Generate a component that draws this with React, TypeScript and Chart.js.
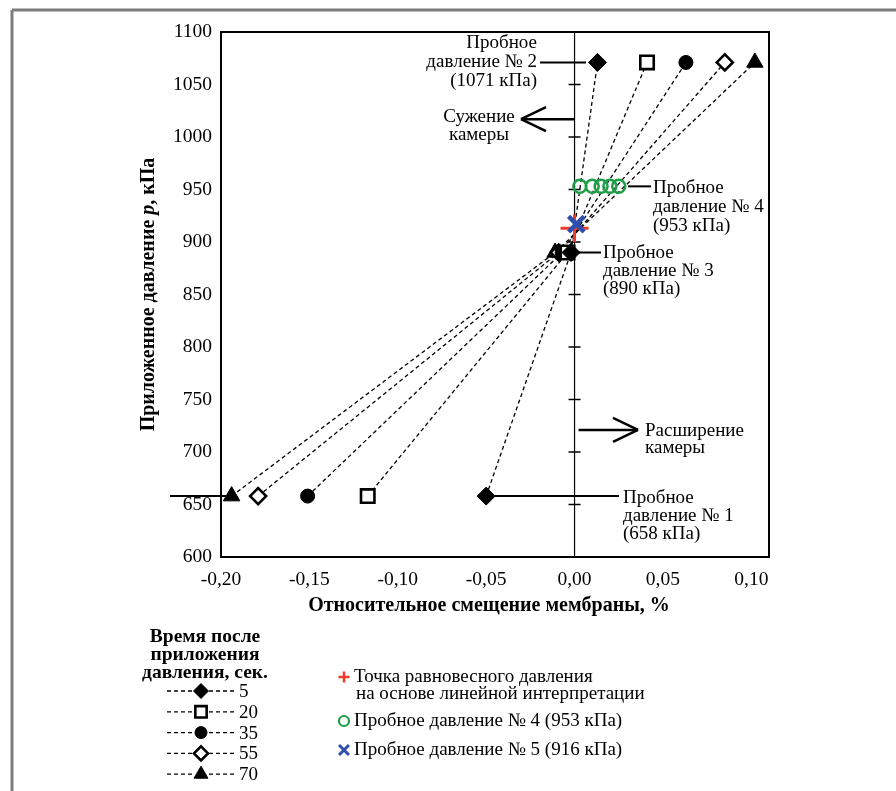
import React, { useEffect, useRef } from "react";
import { Chart, registerables } from "chart.js";
import { drawPoint } from "chart.js/helpers";

Chart.register(...registerables);

const FONT = '"Liberation Serif", "DejaVu Serif", serif';

// ---- data ----
const xTickValues = [-0.2, -0.15, -0.1, -0.05, 0, 0.05, 0.1];
const yTickValues = [600, 650, 700, 750, 800, 850, 900, 950, 1000, 1050, 1100];

const testPressures = [658, 890, 1071];
const timeLabels = ["5", "20", "35", "55", "70"];
const disp5s = [-0.05, -0.002, 0.013];
const disp20s = [-0.117, -0.004, 0.041];
const disp35s = [-0.151, -0.007, 0.063];
const disp55s = [-0.179, -0.009, 0.085];
const disp70s = [-0.194, -0.011, 0.102];

const test4Pressure = 953;
const test4Disp = [0.003, 0.01, 0.015, 0.02, 0.025];
const test5Pressure = [917];
const test5Disp = [0.001];
const equilPressure = [913];
const equilDisp = [0.0];

// ---- styles ----
const seriesDisp = [disp5s, disp20s, disp35s, disp55s, disp70s];
const seriesStyle = [
  { pointStyle: "rectRot", bg: "#000", bw: 1, r: 9, lr: 7.5 },
  { pointStyle: "rect", bg: "#fff", bw: 2.6, r: 9.5, lr: 8 },
  { pointStyle: "circle", bg: "#000", bw: 1, r: 7, lr: 6 },
  { pointStyle: "rectRot", bg: "#fff", bw: 2.6, r: 8, lr: 7 },
  { pointStyle: "triangle", bg: "#000", bw: 1, r: 9.5, lr: 8 },
];
const GREEN = "#1f9e48";
const BLUE = "#2f4fae";
const RED = "#f0392b";

const TXT = 19;
const fmtX = (v: number) => (Math.abs(v) < 1e-9 ? 0 : v).toFixed(2).replace(".", ",");

const decorPlugin = {
  id: "decor",
  beforeDatasetsDraw(chart: any) {
    const { ctx, chartArea: a, scales } = chart;
    const x = scales.x;
    const y = scales.y;
    ctx.save();
    ctx.strokeStyle = "#000";
    ctx.lineWidth = 1.2;
    const x0 = x.getPixelForValue(0);
    ctx.beginPath();
    ctx.moveTo(x0, a.top);
    ctx.lineTo(x0, a.bottom);
    ctx.stroke();
    ctx.lineWidth = 1.5;
    yTickValues.forEach((v) => {
      const py = y.getPixelForValue(v);
      ctx.beginPath();
      ctx.moveTo(x0 - 6, py);
      ctx.lineTo(x0 + 6, py);
      ctx.stroke();
    });
    ctx.restore();
  },
  afterDatasetsDraw(chart: any) {
    const { ctx, chartArea: a, scales } = chart;
    const x = scales.x;
    const y = scales.y;
    const X = (v: number) => x.getPixelForValue(v);
    const Y = (v: number) => y.getPixelForValue(v);
    ctx.save();

    const line = (x1: number, y1: number, x2: number, y2: number, w = 2, dash: number[] = []) => {
      ctx.save();
      ctx.lineWidth = w;
      ctx.setLineDash(dash);
      ctx.beginPath();
      ctx.moveTo(x1, y1);
      ctx.lineTo(x2, y2);
      ctx.stroke();
      ctx.restore();
    };
    const text = (s: string, tx: number, ty: number, align = "left", font = `${TXT}px ${FONT}`) => {
      ctx.font = font;
      ctx.textAlign = align;
      ctx.textBaseline = "middle";
      ctx.fillStyle = "#000";
      ctx.fillText(s, tx, ty);
    };

    // page frame
    ctx.strokeStyle = "#7d7d7d";
    line(12, 10, 896, 10, 3);
    line(12, 10, 12, 791, 3);

    // plot border
    ctx.strokeStyle = "#000";
    ctx.lineWidth = 2;
    ctx.strokeRect(a.left, a.top, a.right - a.left, a.bottom - a.top);

    // annotations
    const x0 = X(0);
    // test 2
    text("Пробное", 537, 43, "right");
    text("давление № 2", 537, 62, "right");
    text("(1071 кПа)", 537, 81, "right");
    line(540, Y(1071), 586, Y(1071), 2);
    // contraction arrow
    const yc = Y(1017);
    line(x0, yc, 521, yc, 2.5);
    line(521, yc, 546, yc - 12, 2.5);
    line(521, yc, 546, yc + 12, 2.5);
    text("Сужение", 479, 117, "center");
    text("камеры", 479, 135, "center");
    // test 4
    line(628, Y(953), 651, Y(953), 2);
    text("Пробное", 653, 188);
    text("давление № 4", 653, 207);
    text("(953 кПа)", 653, 226);
    // test 3
    line(578, Y(890), 601, Y(890), 2);
    text("Пробное", 603, 253);
    text("давление № 3", 603, 271);
    text("(890 кПа)", 603, 289);
    // expansion arrow
    const ye = Y(721);
    line(x0 + 4, ye, 638, ye, 2.5);
    line(638, ye, 613, ye - 12, 2.5);
    line(638, ye, 613, ye + 12, 2.5);
    text("Расширение", 645, 431);
    text("камеры", 645, 448);
    // test 1
    line(494, Y(658), 619, Y(658), 2);
    line(170, Y(658), 227, Y(658), 2);
    text("Пробное", 623, 498);
    text("давление № 1", 623, 516);
    text("(658 кПа)", 623, 534);

    // axis titles
    text("Относительное смещение мембраны, %", 489, 606, "center", `bold 20px ${FONT}`);
    ctx.save();
    ctx.translate(149, (a.top + a.bottom) / 2);
    ctx.rotate(-Math.PI / 2);
    const parts = [
      ["Приложенное давление ", `bold 20px ${FONT}`],
      ["p", `bold italic 20px ${FONT}`],
      [", кПа", `bold 20px ${FONT}`],
    ];
    let total = 0;
    parts.forEach(([s, f]) => {
      ctx.font = f;
      total += ctx.measureText(s).width;
    });
    let cx = -total / 2;
    parts.forEach(([s, f]) => {
      ctx.font = f;
      ctx.textAlign = "left";
      ctx.textBaseline = "middle";
      ctx.fillStyle = "#000";
      ctx.fillText(s, cx, 0);
      cx += ctx.measureText(s).width;
    });
    ctx.restore();

    // legend (left)
    const LT = `bold 19.5px ${FONT}`;
    text("Время после", 205, 637, "center", LT);
    text("приложения", 205, 655, "center", LT);
    text("давления, сек.", 205, 673, "center", LT);
    timeLabels.forEach((lab, i) => {
      const ly = 691 + i * 20.8;
      const st = seriesStyle[i];
      ctx.strokeStyle = "#000";
      line(167, ly, 193, ly, 1.3, [4, 3]);
      line(209, ly, 235, ly, 1.3, [4, 3]);
      ctx.save();
      ctx.fillStyle = st.bg;
      ctx.strokeStyle = "#000";
      ctx.lineWidth = st.bw;
      drawPoint(ctx, { pointStyle: st.pointStyle, rotation: 0, radius: st.lr, borderWidth: st.bw }, 201, ly);
      ctx.restore();
      text(lab, 239, ly + 1, "left", `${TXT}px ${FONT}`);
    });

    // legend (right)
    ctx.save();
    ctx.strokeStyle = RED;
    ctx.lineWidth = 2.5;
    drawPoint(ctx, { pointStyle: "cross", rotation: 0, radius: 5.5, borderWidth: 2.5 }, 344, 677);
    ctx.restore();
    text("Точка равновесного давления", 354, 677);
    text("на основе линейной интерпретации", 356, 694);
    ctx.save();
    ctx.strokeStyle = GREEN;
    ctx.fillStyle = "rgba(0,0,0,0)";
    ctx.lineWidth = 2.2;
    drawPoint(ctx, { pointStyle: "circle", rotation: 0, radius: 5, borderWidth: 2.2 }, 344, 721);
    ctx.restore();
    text("Пробное давление № 4 (953 кПа)", 354, 721);
    ctx.save();
    ctx.strokeStyle = BLUE;
    ctx.lineWidth = 3;
    drawPoint(ctx, { pointStyle: "crossRot", rotation: 0, radius: 7, borderWidth: 3 }, 344, 750);
    ctx.restore();
    text("Пробное давление № 5 (916 кПа)", 354, 750);

    ctx.restore();
  },
};

export default function App() {
  const ref = useRef<HTMLCanvasElement>(null);
  useEffect(() => {
    const datasets: any[] = [];
    datasets.push({
      label: "Пробное давление № 5 (916 кПа)",
      data: test5Disp.map((v, i) => ({ x: v, y: test5Pressure[i] })),
      showLine: false,
      pointStyle: "crossRot",
      pointRadius: 11,
      pointBorderColor: BLUE,
      pointBorderWidth: 4.5,
      pointBackgroundColor: BLUE,
    });
    datasets.push({
      label: "Точка равновесного давления",
      data: equilDisp.map((v, i) => ({ x: v, y: equilPressure[i] })),
      showLine: false,
      pointStyle: "cross",
      pointRadius: 14,
      pointBorderColor: RED,
      pointBorderWidth: 3,
      pointBackgroundColor: RED,
    });
    datasets.push({
      label: "Пробное давление № 4 (953 кПа)",
      data: test4Disp.map((v) => ({ x: v, y: test4Pressure })),
      showLine: false,
      pointStyle: "circle",
      pointRadius: 6.5,
      pointBorderColor: GREEN,
      pointBorderWidth: 2.5,
      pointBackgroundColor: "rgba(0,0,0,0)",
    });
    seriesDisp.forEach((d, i) => {
      const st = seriesStyle[i];
      datasets.push({
        label: timeLabels[i],
        data: d.map((v, j) => ({ x: v, y: testPressures[j] })),
        showLine: true,
        borderColor: "#000",
        borderWidth: 1.3,
        borderDash: [4, 3],
        pointStyle: st.pointStyle,
        pointRadius: st.r,
        pointBorderColor: "#000",
        pointBorderWidth: st.bw,
        pointBackgroundColor: st.bg,
      });
    });

    const chart = new Chart(ref.current as HTMLCanvasElement, {
      type: "scatter",
      data: { datasets },
      options: {
        responsive: false,
        devicePixelRatio: 1,
        animation: false,
        layout: { padding: { left: 0, right: 127, top: 32, bottom: 0 } },
        plugins: { legend: { display: false }, tooltip: { enabled: false } },
        scales: {
          x: {
            type: "linear",
            min: -0.2,
            max: 0.11,
            grid: { display: false, drawTicks: false },
            border: { display: false },
            ticks: {
              color: "#000",
              font: { family: FONT, size: 19.5 },
              padding: 11,
              maxRotation: 0,
              autoSkip: false,
              callback: (v: any) => fmtX(Number(v)),
            },
            afterBuildTicks: (s: any) => {
              s.ticks = xTickValues.map((value) => ({ value }));
            },
            afterFit: (s: any) => {
              s.height = 791 - 557;
            },
          },
          y: {
            type: "linear",
            min: 600,
            max: 1100,
            grid: { display: false, drawTicks: false },
            border: { display: false },
            ticks: {
              color: "#000",
              font: { family: FONT, size: 19.5 },
              padding: 9,
              autoSkip: false,
              callback: (v: any) => String(v),
            },
            afterBuildTicks: (s: any) => {
              s.ticks = yTickValues.map((value) => ({ value }));
            },
            afterFit: (s: any) => {
              s.width = 221;
            },
          },
        },
      } as any,
      plugins: [decorPlugin as any],
    });
    return () => chart.destroy();
  }, []);
  return (
    <div style={{ position: "fixed", left: 0, top: 0, width: 896, height: 791, background: "#fff" }}>
      <canvas ref={ref} width={896} height={791} style={{ display: "block", width: 896, height: 791 }} />
    </div>
  );
}
